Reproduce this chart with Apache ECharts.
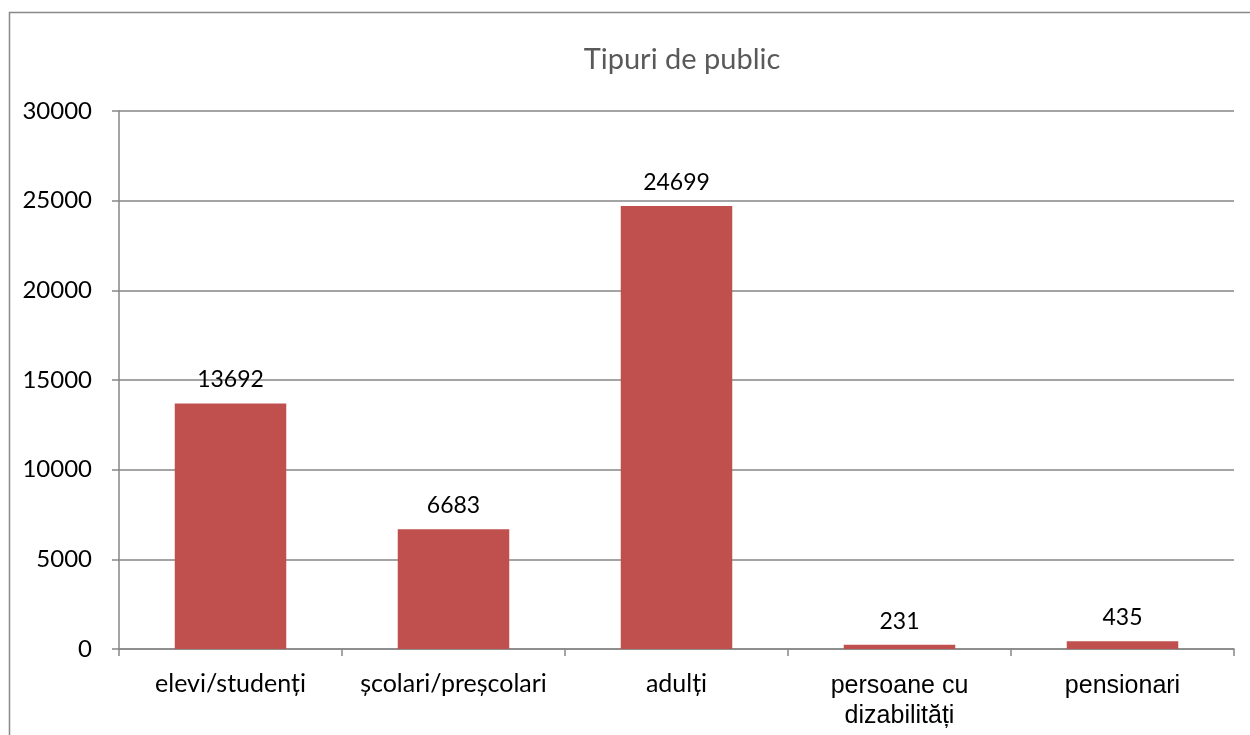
<!DOCTYPE html>
<html>
<head>
<meta charset="utf-8">
<script src="https://cdn.jsdelivr.net/npm/echarts@6/dist/echarts.min.js"></script>
<style>
html, body { margin: 0; padding: 0; background: #fff; }
#container { width: 1250px; height: 735px; }
</style>
</head>
<body>
<div id="container"></div>
<script>
var categories = ["elevi/studenți", "școlari/preșcolari", "adulți", "persoane cu\ndizabilități", "pensionari"];
var values = [13692, 6683, 24699, 231, 435];
var yTicks = [0, 5000, 10000, 15000, 20000, 25000, 30000];

var dom = document.getElementById("container");
var myChart = echarts.init(dom);
var option = {
    backgroundColor: '#fff',
    animation: false,
    title: {
        text: 'Tipuri de public',
        left: 677,
        top: 40,
        textAlign: 'center',
        textStyle: {
            fontFamily: 'Lato',
            fontWeight: 'normal',
            fontSize: 29,
            color: '#595959'
        }
    },
    graphic: [{
        type: 'rect',
        shape: { x: 9.5, y: 12.5, width: 1400, height: 900 },
        style: { fill: null, stroke: '#898989', lineWidth: 1.5 },
        z: -1
    }],
    grid: {
        left: 119,
        right: 16,
        top: 111,
        bottom: 86
    },
    xAxis: {
        type: 'category',
        data: categories,
        axisLine: { lineStyle: { color: '#868686', width: 1.5 } },
        axisTick: { show: true, interval: 0, length: 7, lineStyle: { color: '#868686', width: 1.5 } },
        axisLabel: {
            interval: 0,
            margin: 22,
            color: '#000',
            fontFamily: 'Lato',
            fontSize: 25,
            formatter: function (val, idx) {
                if (idx >= 3) {
                    return '{a|' + val.split('\n').join('}\n{a|') + '}';
                }
                return val;
            },
            rich: {
                a: {
                    fontFamily: 'Liberation Sans',
                    fontSize: 25,
                    lineHeight: 30,
                    color: '#000'
                }
            }
        }
    },
    yAxis: {
        type: 'value',
        min: yTicks[0],
        max: yTicks[yTicks.length - 1],
        interval: 5000,
        axisLine: { show: true, lineStyle: { color: '#868686', width: 1.5 } },
        axisTick: { show: true, length: 7, lineStyle: { color: '#868686', width: 1.5 } },
        splitLine: { lineStyle: { color: '#868686', width: 1.5 } },
        axisLabel: {
            margin: 27,
            color: '#000',
            fontFamily: 'Lato',
            fontSize: 24,
            formatter: function (v) { return String(v); }
        }
    },
    series: [{
        type: 'bar',
        data: values,
        barWidth: '50%',
        itemStyle: { color: '#C0504D' },
        label: {
            show: true,
            position: 'top',
            distance: 12,
            color: '#000',
            fontFamily: 'Lato',
            fontSize: 23
        }
    }]
};
myChart.setOption(option, true);
</script>
</body>
</html>
